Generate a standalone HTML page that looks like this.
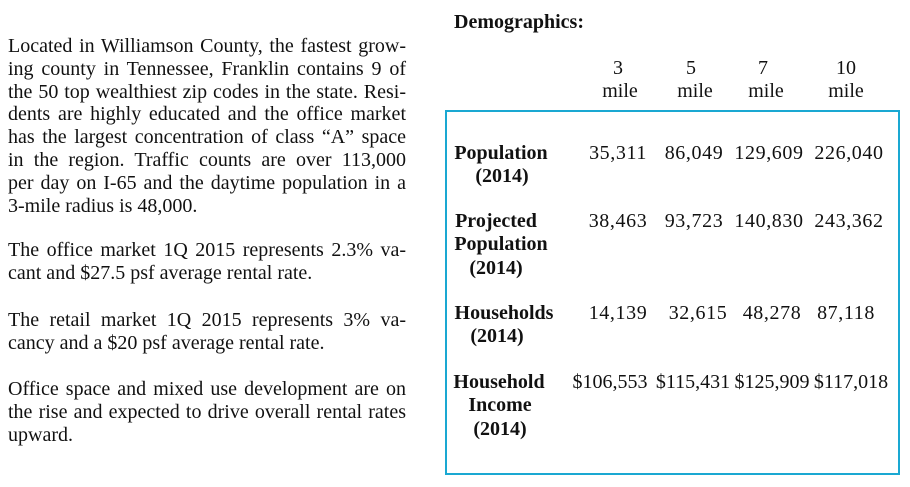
<!DOCTYPE html>
<html><head><meta charset="utf-8"><style>
body{margin:0;width:910px;height:487px;background:#fff;position:relative;overflow:hidden;font-family:"Liberation Serif",serif;font-size:20px;color:#111}
.p{position:absolute;left:8px;width:398px;line-height:22px;height:22px;white-space:nowrap;text-align:justify;text-align-last:justify}
.pl{text-align-last:left}
.t{position:absolute;line-height:22px;white-space:nowrap;transform:translateX(-50%)}
.v .t{letter-spacing:0.6px}
.v .t.n{letter-spacing:0}
.b{font-weight:bold}
#box{position:absolute;left:445px;top:110px;width:451px;height:361px;border:2px solid #1aa8d2}
</style></head><body>
<div>
<div class="p" style="top:35px">Located in Williamson County, the fastest grow-</div>
<div class="p" style="top:58px">ing county in Tennessee, Franklin contains 9 of</div>
<div class="p" style="top:81px">the 50 top wealthiest zip codes in the state. Resi-</div>
<div class="p" style="top:103px">dents are highly educated and the office market</div>
<div class="p" style="top:126px">has the largest concentration of class “A” space</div>
<div class="p" style="top:149px">in the region. Traffic counts are over 113,000</div>
<div class="p" style="top:172px">per day on I-65 and the daytime population in a</div>
<div class="p pl" style="top:195px">3-mile radius is 48,000.</div>
<div class="p" style="top:239px">The office market 1Q 2015 represents 2.3% va-</div>
<div class="p pl" style="top:262px">cant and $27.5 psf average rental rate.</div>
<div class="p" style="top:309px">The retail market 1Q 2015 represents 3% va-</div>
<div class="p pl" style="top:332px">cancy and a $20 psf average rental rate.</div>
<div class="p" style="top:378px">Office space and mixed use development are on</div>
<div class="p" style="top:401px">the rise and expected to drive overall rental rates</div>
<div class="p pl" style="top:424px">upward.</div>
</div>
<div class="t b" style="left:519px;top:11px">Demographics:</div>
<div id="box"></div>
<div class="v">
<div class="t n" style="left:618px;top:57px">3</div><div class="t n" style="left:620px;top:80px">mile</div>
<div class="t n" style="left:691px;top:57px">5</div><div class="t n" style="left:695px;top:80px">mile</div>
<div class="t n" style="left:763px;top:57px">7</div><div class="t n" style="left:766px;top:80px">mile</div>
<div class="t n" style="left:846px;top:57px">10</div><div class="t n" style="left:846px;top:80px">mile</div>
</div>
<div class="b">
<div class="t" style="left:501px;top:142px">Population</div><div class="t" style="left:502px;top:165px">(2014)</div>
<div class="t" style="left:496px;top:210px">Projected</div><div class="t" style="left:501px;top:233px">Population</div><div class="t" style="left:496px;top:257px">(2014)</div>
<div class="t" style="left:504px;top:302px">Households</div><div class="t" style="left:497px;top:325px">(2014)</div>
<div class="t" style="left:499px;top:371px">Household</div><div class="t" style="left:500px;top:394px">Income</div><div class="t" style="left:500px;top:418px">(2014)</div>
</div>
<div class="v">
<div class="t" style="left:618px;top:142px">35,311</div><div class="t" style="left:694px;top:142px">86,049</div><div class="t" style="left:769px;top:142px">129,609</div><div class="t" style="left:849px;top:142px">226,040</div>
<div class="t" style="left:618px;top:210px">38,463</div><div class="t" style="left:694px;top:210px">93,723</div><div class="t" style="left:769px;top:210px">140,830</div><div class="t" style="left:849px;top:210px">243,362</div>
<div class="t" style="left:618px;top:302px">14,139</div><div class="t" style="left:698px;top:302px">32,615</div><div class="t" style="left:772px;top:302px">48,278</div><div class="t" style="left:846px;top:302px">87,118</div>
<div class="t n" style="left:610px;top:371px">$106,553</div><div class="t n" style="left:693px;top:371px">$115,431</div><div class="t n" style="left:772px;top:371px">$125,909</div><div class="t n" style="left:851px;top:371px">$117,018</div>
</div>
</body></html>
